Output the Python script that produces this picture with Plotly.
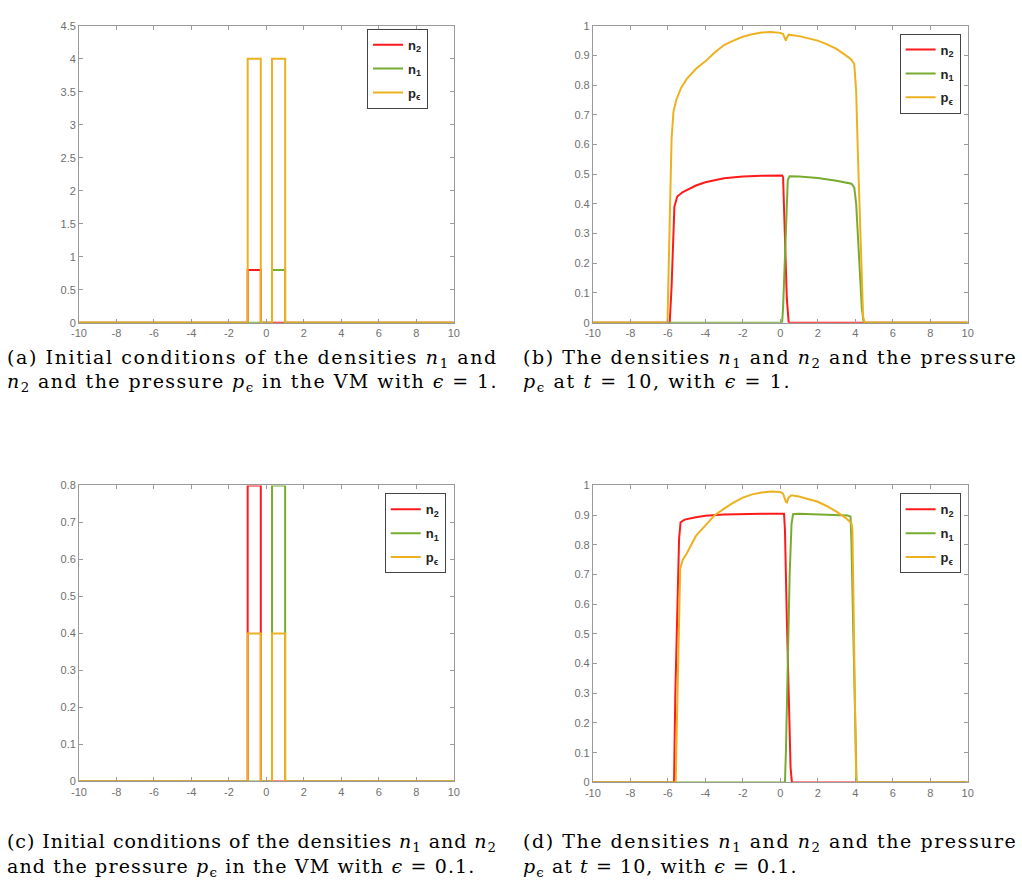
import plotly.graph_objects as go

W, H = 1022, 890

# ---------------- data ----------------
x_ticks = [-10, -8, -6, -4, -2, 0, 2, 4, 6, 8, 10]
x_ticktext = ["-10", "-8", "-6", "-4", "-2", "0", "2", "4", "6", "8", "10"]
ya_ticks = [0, 0.5, 1, 1.5, 2, 2.5, 3, 3.5, 4, 4.5]
ya_ticktext = ["0", "0.5", "1", "1.5", "2", "2.5", "3", "3.5", "4", "4.5"]
yb_ticks = [0, 0.1, 0.2, 0.3, 0.4, 0.5, 0.6, 0.7, 0.8, 0.9, 1]
yb_ticktext = ["0", "0.1", "0.2", "0.3", "0.4", "0.5", "0.6", "0.7", "0.8", "0.9", "1"]
yc_ticks = [0, 0.1, 0.2, 0.3, 0.4, 0.5, 0.6, 0.7, 0.8]
yc_ticktext = ["0", "0.1", "0.2", "0.3", "0.4", "0.5", "0.6", "0.7", "0.8"]

# initial conditions (panels a and c)
x_init = [-10, -1, -1, -0.3, -0.3, 0.3, 0.3, 1, 1, 10]
a_n2 = [0, 0, 0.8, 0.8, 0, 0, 0, 0, 0, 0]
a_n1 = [0, 0, 0, 0, 0, 0, 0.8, 0.8, 0, 0]
a_p = [0, 0, 4, 4, 0, 0, 4, 4, 0, 0]
c_n2 = [0, 0, 0.8, 0.8, 0, 0, 0, 0, 0, 0]
c_n1 = [0, 0, 0, 0, 0, 0, 0.8, 0.8, 0, 0]
c_p = [0, 0, 0.4, 0.4, 0, 0, 0.4, 0.4, 0, 0]

# t = 10, eps = 1 (panel b)
b_x_n2 = [-10, -5.9, -5.8, -5.72, -5.65, -5.5, -5.2, -4.5, -4, -3, -2, -1, 0.1, 0.15, 0.25, 0.35, 0.45, 10]
b_n2 = [0, 0, 0.12, 0.28, 0.39, 0.425, 0.44, 0.462, 0.473, 0.486, 0.492, 0.495, 0.496, 0.49, 0.3, 0.08, 0, 0]
b_x_n1 = [-10, 0.1, 0.15, 0.3, 0.4, 0.5, 1, 2, 3, 3.8, 3.95, 4.05, 4.2, 4.35, 4.45, 10]
b_n1 = [0, 0, 0.05, 0.35, 0.48, 0.493, 0.492, 0.487, 0.478, 0.468, 0.455, 0.40, 0.2, 0.05, 0, 0]
b_x_p = [-10, -6.02, -5.95, -5.88, -5.8, -5.7, -5.55, -5.3, -5.0, -4.5, -4.0, -3.5, -3, -2.5, -2, -1.5, -1,
         -0.5, 0, 0.15, 0.25, 0.3, 0.35, 0.45, 1, 1.5, 2, 2.5, 3, 3.5, 3.8, 3.95, 4.05, 4.15, 4.3, 4.42, 4.5, 10]
b_p = [0, 0, 0.2, 0.45, 0.62, 0.71, 0.75, 0.79, 0.82, 0.855, 0.88, 0.91, 0.935, 0.95, 0.963, 0.971, 0.977,
       0.979, 0.976, 0.972, 0.952, 0.95, 0.96, 0.97, 0.965, 0.958, 0.95, 0.937, 0.922, 0.9, 0.886, 0.87,
       0.78, 0.55, 0.25, 0.02, 0, 0]

# t = 10, eps = 0.1 (panel d)
d_x_n2 = [-10, -5.67, -5.6, -5.5, -5.4, -5.32, -5.1, -4.5, -4, -3, -2, -1, 0.2, 0.25, 0.35, 0.45, 0.55, 0.62, 10]
d_n2 = [0, 0, 0.3, 0.62, 0.82, 0.876, 0.885, 0.893, 0.898, 0.902, 0.904, 0.905, 0.905, 0.85, 0.55, 0.25, 0.05, 0, 0]
d_x_n1 = [-10, 0.25, 0.3, 0.4, 0.5, 0.6, 0.68, 1, 2, 3, 3.6, 3.75, 3.8, 3.9, 4.0, 4.07, 10]
d_n1 = [0, 0, 0.1, 0.4, 0.7, 0.87, 0.903, 0.905, 0.903, 0.901, 0.899, 0.895, 0.8, 0.5, 0.15, 0, 0]
d_x_p = [-10, -5.58, -5.5, -5.42, -5.34, -5.2, -5, -4.5, -4, -3.5, -3, -2.5, -2, -1.5, -1, -0.5, 0, 0.15,
         0.3, 0.35, 0.45, 0.6, 1, 1.5, 2, 2.5, 3, 3.5, 3.8, 3.85, 3.9, 3.95, 4.0, 4.05, 10]
d_p = [0, 0, 0.25, 0.55, 0.72, 0.75, 0.77, 0.83, 0.866, 0.9, 0.922, 0.942, 0.959, 0.97, 0.976, 0.98, 0.978,
       0.972, 0.945, 0.943, 0.96, 0.967, 0.963, 0.955, 0.945, 0.93, 0.912, 0.89, 0.873, 0.85, 0.6, 0.35,
       0.12, 0, 0]

names = ["<b>n<sub>2</sub></b>", "<b>n<sub>1</sub></b>", "<b>p<sub>ϵ</sub></b>"]
colors = ["#FF1A1A", "#77AC30", "#EDB120"]

captions = [
    ["(a) Initial conditions of the densities <i>n</i><sub>1</sub> and",
     "<i>n</i><sub>2</sub> and the pressure <i>p</i><sub>ϵ</sub> in the VM with <i>ϵ</i> = 1."],
    ["(b) The densities <i>n</i><sub>1</sub> and <i>n</i><sub>2</sub> and the pressure",
     "<i>p</i><sub>ϵ</sub> at <i>t</i> = 10, with <i>ϵ</i> = 1."],
    ["(c) Initial conditions of the densities <i>n</i><sub>1</sub> and <i>n</i><sub>2</sub>",
     "and the pressure <i>p</i><sub>ϵ</sub> in the VM with <i>ϵ</i> = 0.1."],
    ["(d) The densities <i>n</i><sub>1</sub> and <i>n</i><sub>2</sub> and the pressure",
     "<i>p</i><sub>ϵ</sub> at <i>t</i> = 10, with <i>ϵ</i> = 0.1."],
]
caption_spacing = [[1.6, 1.44], [1.55, 1.62], [0.95, 1.15], [1.55, 1.07]]

# ---------------- layout geometry (pixels) ----------------
boxes = [(72, 452, 20, 321), (593, 973, 20, 321), (72, 452, 486, 786), (593, 973, 486, 787)]
legend_pos = [(364, 23), (904, 28), (382, 494), (904, 494)]
caption_pos = [(-2, 357, 382), (521, 357, 382), (-2, 848, 873), (521, 848, 873)]

panels = [
    ([x_init, x_init, x_init], [a_n2, a_n1, a_p], [0, 4.5], ya_ticks, ya_ticktext),
    ([b_x_n2, b_x_n1, b_x_p], [b_n2, b_n1, b_p], [0, 1], yb_ticks, yb_ticktext),
    ([x_init, x_init, x_init], [c_n2, c_n1, c_p], [0, 0.8], yc_ticks, yc_ticktext),
    ([d_x_n2, d_x_n1, d_x_p], [d_n2, d_n1, d_p], [0, 1], yb_ticks, yb_ticktext),
]

fig = go.Figure()
layout = dict(
    width=W, height=H, margin=dict(l=0, r=0, t=0, b=0),
    paper_bgcolor="white", plot_bgcolor="white", showlegend=True,
)
annotations = []
axis_grey = "#9a9a9a"
for i, (xs, ys, yr, yt, ytt) in enumerate(panels):
    k = "" if i == 0 else str(i + 1)
    leg = "legend" if i == 0 else "legend" + str(i + 1)
    for j in range(3):
        fig.add_trace(go.Scatter(
            x=xs[j], y=ys[j], mode="lines", name=names[j],
            line=dict(color=colors[j], width=2),
            xaxis="x" + k, yaxis="y" + k, legend=leg,
            legendgroup="g%d_%d" % (i, j),
        ))
    x0, x1, y0, y1 = boxes[i]
    common = dict(showline=True, linecolor=axis_grey, linewidth=1, mirror="allticks",
                  ticks="inside", ticklen=4, tickcolor=axis_grey, showgrid=False, zeroline=False,
                  tickfont=dict(family="Liberation Sans, Arial", size=11, color="#707070"))
    layout["xaxis" + k] = dict(domain=[x0 / W, x1 / W], anchor="y" + k, range=[-10, 10],
                               tickmode="array", tickvals=x_ticks, ticktext=x_ticktext, **common)
    layout["yaxis" + k] = dict(domain=[1 - y1 / H, 1 - y0 / H], anchor="x" + k, range=yr,
                               tickmode="array", tickvals=yt, ticktext=ytt, **common)
    lx, ly = legend_pos[i]
    layout[leg] = dict(x=lx / W, y=1 - ly / H, xanchor="left", yanchor="top", xref="paper", yref="paper",
                       bgcolor="white", bordercolor="#444", borderwidth=1, tracegroupgap=4,
                       font=dict(family="Liberation Sans, Arial", size=13, color="#222"))
    cx, cy1, cy2 = caption_pos[i]
    for line_text, cy, ls in zip(captions[i], (cy1, cy2), caption_spacing[i]):
        annotations.append(dict(
            text='<span style="letter-spacing:%.2fpx">%s</span>' % (ls, line_text),
            x=cx / W, y=1 - cy / H, xref="paper", yref="paper", xanchor="left", yanchor="middle",
            width=500, align="left", borderpad=0,
            showarrow=False, font=dict(family="DejaVu Serif", size=19, color="black"),
        ))
layout["annotations"] = annotations
fig.update_layout(**layout)
fig.write_html("out.html", config={"displayModeBar": False},
               post_script="document.body.style.margin='0';document.body.style.padding='0';"
                           "document.documentElement.style.overflow='hidden';")
